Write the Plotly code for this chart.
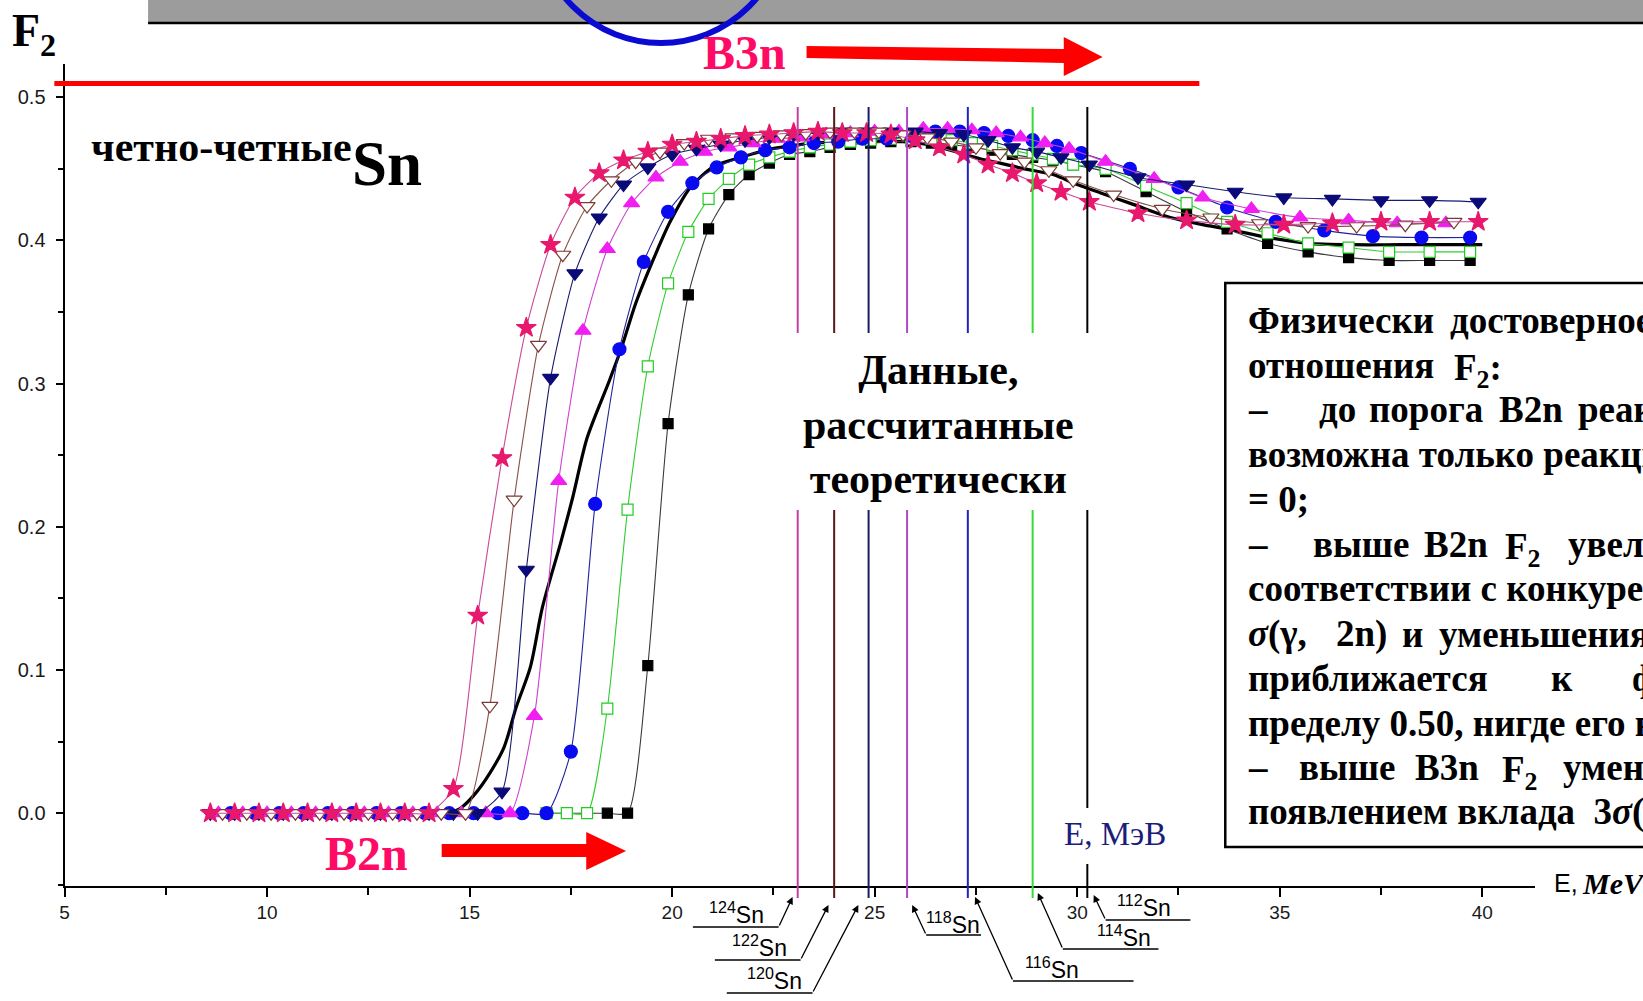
import plotly.graph_objects as go

W, H = 1643, 1001

# ---------------------------------------------------------------- data
# photon energy grid (MeV) and F2 ratio for each even-even Sn isotope
e_124 = [8.6, 9.2, 9.8, 10.4, 11.0, 11.6, 12.2, 12.8, 13.4, 14.0,
         14.6, 15.2, 15.8, 16.4, 17.0, 17.6, 18.2, 18.8, 19.4, 20.0,
         20.6, 21.2, 21.8, 22.4, 23.0, 23.6, 24.2, 24.8, 25.4, 26.0,
         26.6, 27.2, 27.8, 28.4, 29.0, 29.6, 30.3, 31.5, 32.7, 33.9,
         35.1, 36.3, 37.5, 38.7, 39.9]
f2_124 = [0, 0, 0, 0, 0, 0, 0, 0, 0, 0,
          0.017, 0.138, 0.248, 0.339, 0.397, 0.430, 0.447, 0.456, 0.462, 0.467,
          0.469, 0.471, 0.473, 0.474, 0.475, 0.476, 0.475, 0.475, 0.474, 0.470,
          0.465, 0.460, 0.453, 0.447, 0.440, 0.434, 0.427, 0.419, 0.414, 0.411,
          0.411, 0.412, 0.413, 0.413, 0.413]

e_122 = [8.9, 9.5, 10.1, 10.7, 11.3, 11.9, 12.5, 13.1, 13.7, 14.3,
         14.9, 15.5, 16.1, 16.7, 17.3, 17.9, 18.5, 19.1, 19.7, 20.3,
         20.9, 21.5, 22.1, 22.7, 23.3, 23.9, 24.5, 25.1, 25.7, 26.3,
         26.9, 27.5, 28.1, 28.7, 29.3, 29.9, 30.9, 32.1, 33.3, 34.5,
         35.7, 36.9, 38.1, 39.3]
f2_122 = [0, 0, 0, 0, 0, 0, 0, 0, 0, 0,
          0, 0.075, 0.219, 0.327, 0.390, 0.424, 0.442, 0.455, 0.462, 0.468,
          0.471, 0.472, 0.473, 0.474, 0.475, 0.476, 0.476, 0.476, 0.474, 0.472,
          0.469, 0.465, 0.461, 0.455, 0.449, 0.442, 0.432, 0.422, 0.416, 0.412,
          0.410, 0.410, 0.411, 0.413]

e_120 = [8.6, 9.2, 9.8, 10.4, 11.0, 11.6, 12.2, 12.8, 13.4, 14.0,
         14.6, 15.2, 15.8, 16.4, 17.0, 17.6, 18.2, 18.8, 19.4, 20.0,
         20.6, 21.2, 21.8, 22.4, 23.0, 23.6, 24.2, 24.8, 25.4, 26.0,
         26.6, 27.2, 27.8, 28.4, 29.0, 29.6, 30.3, 31.5, 32.7, 33.9,
         35.1, 36.3, 37.5, 38.7, 39.9]
f2_120 = [0, 0, 0, 0, 0, 0, 0, 0, 0, 0,
          0, 0, 0.015, 0.170, 0.304, 0.377, 0.416, 0.439, 0.451, 0.460,
          0.464, 0.467, 0.470, 0.472, 0.474, 0.475, 0.476, 0.476, 0.476, 0.476,
          0.475, 0.474, 0.470, 0.465, 0.462, 0.458, 0.453, 0.444, 0.439, 0.434,
          0.430, 0.429, 0.428, 0.428, 0.427]

e_118 = [8.8, 9.4, 10.0, 10.6, 11.2, 11.8, 12.4, 13.0, 13.6, 14.2,
         14.8, 15.4, 16.0, 16.6, 17.2, 17.8, 18.4, 19.0, 19.6, 20.2,
         20.8, 21.4, 22.0, 22.6, 23.2, 23.8, 24.4, 25.0, 25.6, 26.2,
         26.8, 27.4, 28.0, 28.6, 29.2, 29.8, 30.7, 31.9, 33.1, 34.3,
         35.5, 36.7, 37.9, 39.1]
f2_118 = [0, 0, 0, 0, 0, 0, 0, 0, 0, 0,
          0, 0, 0, 0.068, 0.232, 0.337, 0.394, 0.426, 0.444, 0.455,
          0.462, 0.465, 0.468, 0.471, 0.472, 0.474, 0.475, 0.476, 0.476, 0.478,
          0.478, 0.477, 0.475, 0.472, 0.468, 0.464, 0.455, 0.443, 0.430, 0.422,
          0.416, 0.414, 0.412, 0.412]

e_116 = [9.1, 9.7, 10.3, 10.9, 11.5, 12.1, 12.7, 13.3, 13.9, 14.5,
         15.1, 15.7, 16.3, 16.9, 17.5, 18.1, 18.7, 19.3, 19.9, 20.5,
         21.1, 21.7, 22.3, 22.9, 23.5, 24.1, 24.7, 25.3, 25.9, 26.5,
         27.1, 27.7, 28.3, 28.9, 29.5, 30.1, 31.3, 32.5, 33.7, 34.9,
         36.1, 37.3, 38.5, 39.7]
f2_116 = [0, 0, 0, 0, 0, 0, 0, 0, 0, 0,
          0, 0, 0, 0, 0.043, 0.216, 0.324, 0.385, 0.420, 0.440,
          0.451, 0.458, 0.463, 0.465, 0.468, 0.469, 0.471, 0.471, 0.473, 0.476,
          0.476, 0.475, 0.473, 0.470, 0.466, 0.461, 0.450, 0.437, 0.423, 0.413,
          0.407, 0.403, 0.402, 0.402]

e_114 = [16.9, 17.4, 17.9, 18.4, 18.9, 19.4, 19.9, 20.4, 20.9, 21.4,
         21.9, 22.4, 22.9, 23.4, 23.9, 24.4, 24.9, 25.4, 25.9, 26.4,
         26.9, 27.4, 27.9, 28.4, 28.9, 29.4, 29.9, 30.7, 31.7, 32.7,
         33.7, 34.7, 35.7, 36.7, 37.7, 38.7, 39.7]
f2_114 = [0, 0, 0, 0.073, 0.212, 0.312, 0.370, 0.406, 0.429, 0.443,
          0.453, 0.458, 0.462, 0.465, 0.467, 0.469, 0.470, 0.471, 0.471, 0.471,
          0.470, 0.468, 0.466, 0.463, 0.460, 0.457, 0.453, 0.450, 0.438, 0.426,
          0.413, 0.405, 0.398, 0.395, 0.392, 0.392, 0.392]

e_112 = [16.9, 17.4, 17.9, 18.4, 18.9, 19.4, 19.9, 20.4, 20.9, 21.4,
         21.9, 22.4, 22.9, 23.4, 23.9, 24.4, 24.9, 25.4, 25.9, 26.4,
         26.9, 27.4, 27.9, 28.4, 28.9, 29.4, 29.9, 30.7, 31.7, 32.7,
         33.7, 34.7, 35.7, 36.7, 37.7, 38.7, 39.7]
f2_112 = [0, 0, 0, 0, 0, 0.103, 0.272, 0.362, 0.408, 0.432,
          0.446, 0.454, 0.460, 0.462, 0.465, 0.467, 0.468, 0.469, 0.469, 0.468,
          0.467, 0.465, 0.463, 0.460, 0.458, 0.456, 0.453, 0.448, 0.434, 0.420,
          0.408, 0.398, 0.392, 0.388, 0.386, 0.386, 0.386]

# smooth reference curve (no markers)
e_ref = [14.5, 14.8, 15.15, 15.5, 15.85, 16.15, 16.5, 16.8, 17.25, 17.55,
         17.9, 18.45, 18.75, 19.1, 19.6, 19.95, 20.45, 21.05, 21.7, 22.3,
         22.9, 23.5, 24.6, 25.7, 26.3, 27.0, 27.6, 28.1, 28.7, 29.4,
         30.0, 30.6, 31.4, 32.3, 33.1, 33.7, 34.7, 35.7, 36.8, 38.0, 40.0]
f2_ref = [0.0, 0.004, 0.014, 0.028, 0.046, 0.074, 0.102, 0.144, 0.189, 0.221,
          0.262, 0.302, 0.325, 0.356, 0.391, 0.413, 0.437, 0.452, 0.458, 0.463,
          0.466, 0.468, 0.469, 0.469, 0.467, 0.462, 0.457, 0.454, 0.450, 0.446,
          0.439, 0.433, 0.425, 0.416, 0.411, 0.408, 0.402, 0.398, 0.397, 0.397, 0.397]

# B3n thresholds (MeV) of the isotopes
isotopes = ["124", "122", "120", "118", "116", "114", "112"]
b3n = [23.1, 24.0, 24.85, 25.8, 27.3, 28.9, 30.25]

x_ticks = [5, 10, 15, 20, 25, 30, 35, 40]
y_ticks = [0.0, 0.1, 0.2, 0.3, 0.4, 0.5]

# ---------------------------------------------------------------- geometry
X_RANGE = [5, 41.3]
Y_RANGE = [-0.0505, 0.523]
PLOT_L, PLOT_R = 59.7, 1534.6
PLOT_T, PLOT_B = 64.3, 885.5


def px(x):
    return x / W


def py(y):
    return 1 - y / H


SERIF = "Liberation Serif"
SANS = "Liberation Sans"
PINK = "#ff0a64"

styles = {
    "112": dict(symbol="square", size=10, fill="#000000", edge="#000000", line="#3a3a3a"),
    "114": dict(symbol="square", size=11, fill="#ffffff", edge="#22cc22", line="#33cc33"),
    "116": dict(symbol="circle", size=13, fill="#0a0af0", edge="#0a0af0", line="#22229a"),
    "118": dict(symbol="triangle-up", size=14, fill="#f01ef0", edge="#f01ef0", line="#d040d0"),
    "120": dict(symbol="triangle-down", size=14, fill="#0a0a78", edge="#0a0a78", line="#1a1a70"),
    "122": dict(symbol="triangle-down", size=14, fill="#ffffff", edge="#7a3a30", line="#8a5048"),
    "124": dict(symbol="star", size=15, fill="#e8186c", edge="#e8186c", line="#c84a98"),
}
data = {
    "112": (e_112, f2_112), "114": (e_114, f2_114), "116": (e_116, f2_116),
    "118": (e_118, f2_118), "120": (e_120, f2_120), "122": (e_122, f2_122),
    "124": (e_124, f2_124),
}
iso_line_colors = ["#c040a8", "#5a1818", "#1a1a66", "#b048c8", "#2222c0", "#33dd33", "#000000"]

fig = go.Figure()

fig.add_trace(go.Scatter(
    x=e_ref, y=f2_ref, mode="lines", line=dict(color="black", width=3.2, shape="spline", smoothing=0.8),
    hoverinfo="skip"))

for iso in ["112", "114", "116", "118", "120", "122", "124"]:
    s = styles[iso]
    xs, ys = data[iso]
    fig.add_trace(go.Scatter(
        x=xs, y=ys, mode="lines+markers", name=iso + "Sn",
        line=dict(color=s["line"], width=1.1, shape="spline", smoothing=0.6),
        marker=dict(symbol=s["symbol"], size=s["size"], color=s["fill"],
                    line=dict(color=s["edge"], width=1.2)),
    ))

shapes = []
annotations = []

# threshold lines, broken for the central caption and for the axis legend
for val, col, iso in zip(b3n, iso_line_colors, isotopes):
    segs = [(107, 333), (510, 898)]
    if iso == "112":
        segs = [(107, 333), (510, 808), (864, 898)]
    for a, b in segs:
        shapes.append(dict(type="line", xref="x", yref="paper", x0=val, x1=val,
                           y0=py(a), y1=py(b), line=dict(color=col, width=2), layer="above"))

# header bar with the circle
shapes.append(dict(type="rect", xref="paper", yref="paper", x0=px(143.5), x1=px(1650),
                   y0=py(0) + 0.01, y1=py(22), fillcolor="#9c9c9c", line=dict(width=0)))
shapes.append(dict(type="line", xref="paper", yref="paper", x0=px(143.5), x1=px(1650),
                   y0=py(23), y1=py(23), line=dict(color="black", width=2.5)))
shapes.append(dict(type="circle", xref="paper", yref="paper", x0=px(533), x1=px(783),
                   y0=py(43), y1=py(-207), line=dict(color="#0a0ad2", width=6)))

# 0.5 limit line
shapes.append(dict(type="line", xref="paper", yref="paper", x0=px(49.5), x1=px(1198),
                   y0=py(83.5), y1=py(83.5), line=dict(color="#ff0000", width=5)))


def arrow_path(pts):
    return "M " + " L ".join(f"{px(a):.5f},{py(b):.5f}" for a, b in pts) + " Z"


shapes.append(dict(type="path", xref="paper", yref="paper", fillcolor="#ff0000", line=dict(width=0),
                   path=arrow_path([(804, 46), (1062, 49), (1062, 37), (1101, 57), (1062, 76),
                                    (1062, 63), (804, 58)])))
shapes.append(dict(type="path", xref="paper", yref="paper", fillcolor="#ff0000", line=dict(width=0),
                   path=arrow_path([(438, 844), (583, 844), (583, 832), (623, 851), (583, 870),
                                    (583, 857), (438, 857)])))

# explanation box
shapes.append(dict(type="rect", xref="paper", yref="paper", x0=px(1224), x1=px(1670),
                   y0=py(283), y1=py(847), fillcolor="white", line=dict(color="black", width=2.5)))

# isotope labels with leader lines
labels = [
    # tip, tail, underline end, label centre
    ((790, 897), (776, 927), 690, (734, 913)),
    ((826, 905), (798, 960), 712, (757, 946)),
    ((856, 905), (810, 993), 724, (772, 979)),
    ((910, 905), (924, 935), 979, (951, 923)),
    ((973, 897), (1011, 981), 1132, (1050, 968)),
    ((1036, 893), (1061, 949), 1157, (1122, 936)),
    ((1092, 895), (1104, 920), 1189, (1142, 906)),
]
for iso, (tip, tail, uend, lab) in zip(isotopes, labels):
    shapes.append(dict(type="line", xref="paper", yref="paper", x0=px(tail[0]), x1=px(uend),
                       y0=py(tail[1]), y1=py(tail[1]), line=dict(color="black", width=1.3)))
    annotations.append(dict(xref="paper", yref="paper", x=px(tip[0]), y=py(tip[1]),
                            ax=tail[0] - tip[0], ay=tail[1] - tip[1], text="",
                            showarrow=True, arrowhead=2, arrowsize=1.1, arrowwidth=1.3,
                            arrowcolor="black", standoff=0))
    annotations.append(dict(xref="paper", yref="paper", x=px(lab[0]), y=py(lab[1]),
                            text=f"<sup>{iso}</sup>Sn", showarrow=False,
                            xanchor="center", yanchor="middle",
                            font=dict(family=SANS, size=23, color="black")))


def label(x, y, text, size, family=SERIF, color="black", xanchor="left", yanchor="middle", **kw):
    annotations.append(dict(xref="paper", yref="paper", x=px(x), y=py(y), text=text,
                            showarrow=False, xanchor=xanchor, yanchor=yanchor,
                            font=dict(family=family, size=size, color=color), **kw))


label(5, 34, "<b>F<sub>2</sub></b>", 46)
label(84, 147, "<b>четно-четные</b>", 42)
label(346, 164, "<b>Sn</b>", 63)
label(698, 53, "<b>B3n</b>", 48, color=PINK)
label(319, 853, "<b>B2n</b>", 48, color=PINK)
label(936, 424, "<b>Данные,<br>рассчитанные<br>теоретически</b>", 42, xanchor="center")
label(1058, 834, "E, МэВ", 33, color="#1c1c7a", bgcolor="white", borderpad=3)
label(1552, 883, "E,", 25, family=SANS)
label(1580, 883, "<b><i>MeV</i></b>", 30)

# justified explanation text, one entry per word group
box_lines = [
    (320.7, [(1245, "Физически"), (1447, "достоверное значение")]),
    (365.7, [(1245, "отношения"), (1451, "F<sub>2</sub>:")]),
    (409.7, [(1245, "–"), (1316, "до"), (1366, "порога"), (1497, "B2n"), (1576, "реакция")]),
    (454.8, [(1245, "возможна только реакция")]),
    (499.9, [(1245, "= 0;")]),
    (544.9, [(1245, "–"), (1310, "выше"), (1421, "B2n"), (1503, "F<sub>2</sub>"), (1566, "увеличивается")]),
    (588.9, [(1245, "соответствии с конкуренцией")]),
    (634.0, [(1245, "<i>σ</i>(γ,"), (1333, "2n)"), (1399, "и"), (1436, "уменьшения")]),
    (678.0, [(1245, "приближается"), (1549, "к"), (1630, "физическому")]),
    (723.1, [(1245, "пределу 0.50, нигде его не")]),
    (767.1, [(1245, "–"), (1296, "выше"), (1412, "B3n"), (1500, "F<sub>2</sub>"), (1561, "уменьшается")]),
    (812.1, [(1245, "появлением вклада  3<i>σ</i>(γ, 3n)")]),
]
for yy, words in box_lines:
    for xx, w in words:
        shift = 5 if "<sub>" in w else 0
        label(xx, yy + shift, f"<b>{w}</b>", 37)

fig.update_layout(
    width=W, height=H,
    margin=dict(l=0, r=0, t=0, b=0),
    paper_bgcolor="white", plot_bgcolor="white",
    showlegend=False,
    shapes=shapes, annotations=annotations,
    xaxis=dict(domain=[px(PLOT_L), px(PLOT_R)], range=X_RANGE,
               tickmode="array", tickvals=x_ticks, ticktext=[str(v) for v in x_ticks],
               showline=True, linecolor="black", linewidth=2, mirror=False,
               ticks="outside", ticklen=9, tickwidth=1.5, tickcolor="black",
               minor=dict(ticks="outside", ticklen=7, tickwidth=1.5, tickcolor="black",
                          dtick=2.5, tick0=5),
               showgrid=False, zeroline=False,
               tickfont=dict(family=SANS, size=19, color="#1a1a1a")),
    yaxis=dict(domain=[py(PLOT_B), py(PLOT_T)], range=Y_RANGE,
               tickmode="array", tickvals=y_ticks, ticktext=[f"{v:.1f}" for v in y_ticks],
               showline=True, linecolor="black", linewidth=2,
               ticks="outside", ticklen=7, tickwidth=1.5, tickcolor="black",
               minor=dict(ticks="outside", ticklen=5, tickwidth=1.5, tickcolor="black",
                          dtick=0.05, tick0=0),
               showgrid=False, zeroline=False, ticklabelstandoff=6,
               tickfont=dict(family=SANS, size=20, color="#1a1a1a")),
)

fig.write_html("out.html")
